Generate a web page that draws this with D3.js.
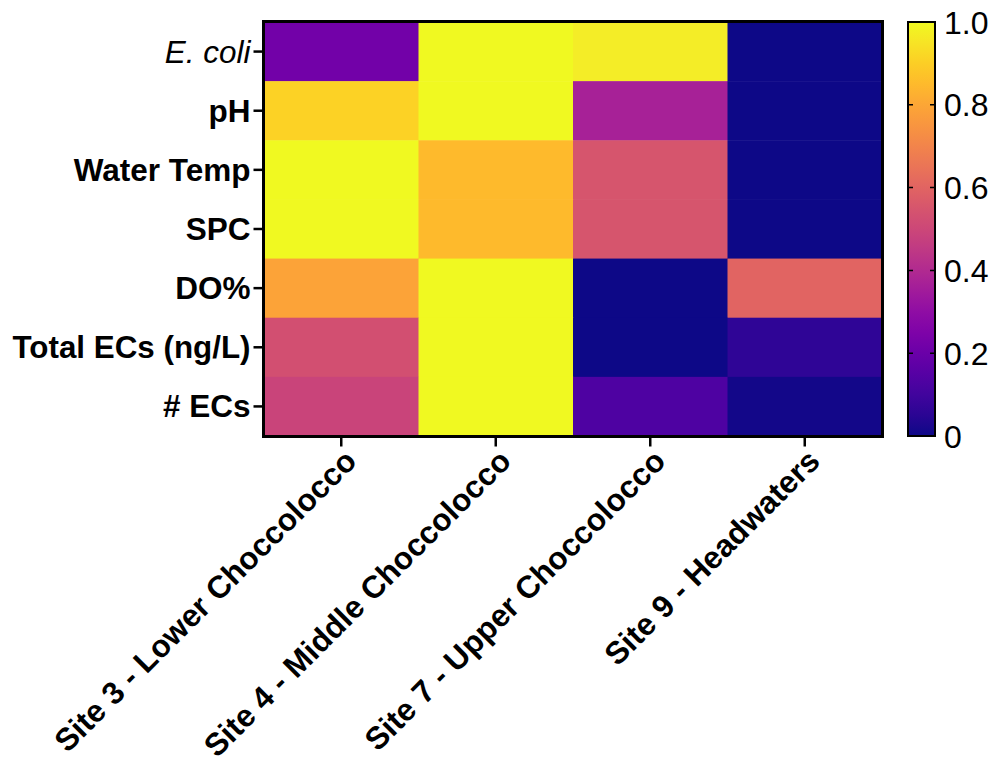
<!DOCTYPE html>
<html>
<head>
<meta charset="utf-8">
<script src="https://cdn.jsdelivr.net/npm/d3@7"></script>
<style>
  html, body { margin: 0; padding: 0; background: #fff; }
  svg { display: block; font-family: Arial, "Liberation Sans", Helvetica, sans-serif; }
</style>
</head>
<body>
<svg id="chart" width="995" height="757"></svg>
<script>
// Sites (columns) and measured parameters (rows)
const sites = [
  "Site 3 - Lower Choccolocco",
  "Site 4 - Middle Choccolocco",
  "Site 7 - Upper Choccolocco",
  "Site 9 - Headwaters"
];
const parameters = ["E. coli", "pH", "Water Temp", "SPC", "DO%", "Total ECs (ng/L)", "# ECs"];

// Normalised values (0–1), one array per parameter, in site order
const ecoli    = [0.22, 1.00, 0.97, 0.00];
const pH       = [0.91, 1.00, 0.37, 0.00];
const waterTmp = [1.00, 0.85, 0.55, 0.00];
const spc      = [1.00, 0.85, 0.55, 0.00];
const doPct    = [0.79, 1.00, 0.00, 0.60];
const totalECs = [0.53, 1.00, 0.00, 0.06];
const numECs   = [0.49, 1.00, 0.13, 0.01];

const rowsData = [ecoli, pH, waterTmp, spc, doPct, totalECs, numECs];

// Colour-bar ticks
const legendTicks = [0, 0.2, 0.4, 0.6, 0.8, 1.0];
const legendTickLabels = ["0", "0.2", "0.4", "0.6", "0.8", "1.0"];

const cells = [];
parameters.forEach((p, i) => sites.forEach((s, j) => cells.push({ p, s, v: rowsData[i][j] })));

const svg = d3.select("#chart");
const plot = { left: 264, right: 882, top: 22, bottom: 436 };
const labelSize = "31.5px";

const x = d3.scaleBand().domain(sites).range([plot.left, plot.right]).padding(0);
const y = d3.scaleBand().domain(parameters).range([plot.top, plot.bottom]).padding(0);
const color = d3.scaleSequential(d3.interpolatePlasma).domain([0, 1]);

// Heatmap cells
svg.append("g")
  .selectAll("rect")
  .data(cells)
  .join("rect")
  .attr("x", d => x(d.s))
  .attr("y", d => y(d.p))
  .attr("width", x.bandwidth() + 0.5)
  .attr("height", y.bandwidth() + 0.5)
  .attr("fill", d => color(d.v));

// Frame
svg.append("rect")
  .attr("x", plot.left - 0.5)
  .attr("y", plot.top - 0.5)
  .attr("width", plot.right - plot.left + 1)
  .attr("height", plot.bottom - plot.top + 1)
  .attr("fill", "none")
  .attr("stroke", "#000")
  .attr("stroke-width", 3);

// Y axis (parameter names)
const yAxis = svg.append("g")
  .attr("transform", `translate(${plot.left - 1.5},0)`)
  .call(d3.axisLeft(y).tickSize(9).tickPadding(3));
yAxis.select(".domain").remove();
yAxis.selectAll(".tick line").attr("stroke", "#000").attr("stroke-width", 2.5);
yAxis.selectAll(".tick text")
  .attr("fill", "#000")
  .style("font-size", labelSize)
  .style("font-weight", d => d === "E. coli" ? "normal" : "bold")
  .style("font-style", d => d === "E. coli" ? "italic" : "normal")
  .attr("dy", "0.35em")
  .each(function () {
    // keep long labels inside the left margin
    const maxW = plot.left - 26;
    const w = this.getComputedTextLength();
    if (w > maxW) d3.select(this).attr("textLength", maxW).attr("lengthAdjust", "spacingAndGlyphs");
  });

// X axis (sites), rotated labels
const xAxis = svg.append("g")
  .attr("transform", `translate(0,${plot.bottom + 1.5})`)
  .call(d3.axisBottom(x).tickSize(9).tickFormat(""));
xAxis.select(".domain").remove();
xAxis.selectAll(".tick line").attr("stroke", "#000").attr("stroke-width", 2.5);

svg.append("g")
  .selectAll("text")
  .data(sites)
  .join("text")
  .attr("transform", d => `translate(${x(d) + x.bandwidth() / 2 + 17},${plot.bottom + 27}) rotate(-45)`)
  .attr("text-anchor", "end")
  .style("font-size", labelSize)
  .style("font-weight", "bold")
  .attr("fill", "#000")
  .text(d => d);

// Colour bar
const bar = { left: 908, right: 935, top: 22, bottom: 436 };
const defs = svg.append("defs");
const grad = defs.append("linearGradient")
  .attr("id", "plasmaGrad")
  .attr("x1", "0").attr("y1", "1").attr("x2", "0").attr("y2", "0");
d3.range(0, 1.0001, 0.05).forEach(t => {
  grad.append("stop").attr("offset", t).attr("stop-color", color(t));
});
svg.append("rect")
  .attr("x", bar.left)
  .attr("y", bar.top)
  .attr("width", bar.right - bar.left)
  .attr("height", bar.bottom - bar.top)
  .attr("fill", "url(#plasmaGrad)")
  .attr("stroke", "#000")
  .attr("stroke-width", 2);

const cy = d3.scaleLinear().domain([0, 1]).range([bar.bottom, bar.top]);
const inner = legendTicks.filter(t => t > 0 && t < 1);
svg.append("g")
  .selectAll("path")
  .data(inner)
  .join("path")
  .attr("d", t => `M${bar.left},${cy(t)}h5M${bar.right},${cy(t)}h-5`)
  .attr("stroke", "#000")
  .attr("stroke-width", 1.5);

svg.append("g")
  .selectAll("text")
  .data(legendTicks)
  .join("text")
  .attr("x", bar.right + 9)
  .attr("y", t => cy(t))
  .attr("dy", "0.36em")
  .style("font-size", "32px")
  .attr("fill", "#000")
  .text((t, i) => legendTickLabels[i]);
</script>
</body>
</html>
